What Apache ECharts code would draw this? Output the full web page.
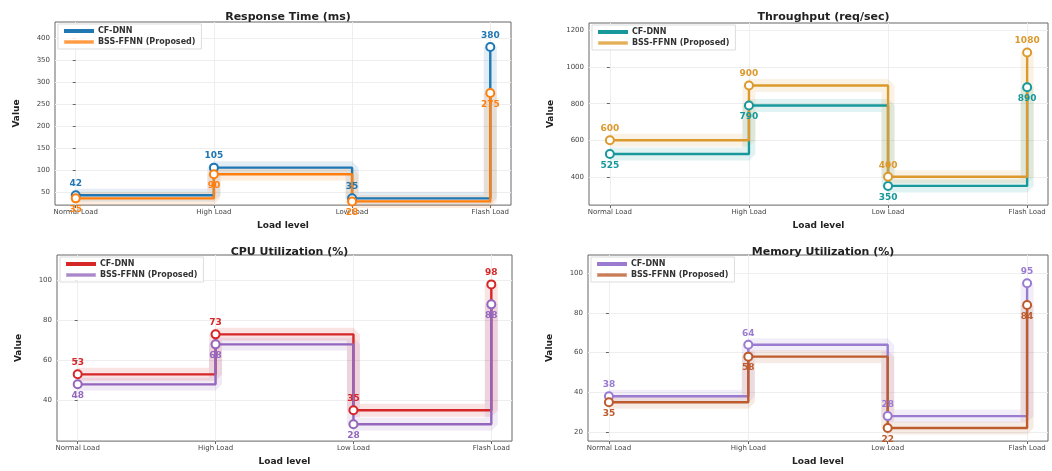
<!DOCTYPE html>
<html>
<head>
<meta charset="utf-8">
<script src="https://cdn.jsdelivr.net/npm/echarts@6/dist/echarts.min.js"></script>
<style>
  body { margin: 0; background: #fff; }
  #wrap { position: relative; width: 1052px; height: 471px; }
  .pane { position: absolute; }
</style>
</head>
<body>
<div id="wrap">
  <div class="pane" id="resp" style="left:0;top:0;width:526px;height:235px"></div>
  <div class="pane" id="thr" style="left:526px;top:0;width:526px;height:235px"></div>
  <div class="pane" id="cpu" style="left:0;top:235px;width:526px;height:236px"></div>
  <div class="pane" id="mem" style="left:526px;top:235px;width:526px;height:236px"></div>
</div>
<script>
const loadLevels = ['Normal Load', 'High Load', 'Low Load', 'Flash Load'];

// response time (ms)
const respCF = [42, 105, 35, 380];
const respBSS = [35, 90, 28, 275];
const respTicks = [50, 100, 150, 200, 250, 300, 350, 400];

// throughput (req/sec)
const thrCF = [525, 790, 350, 890];
const thrBSS = [600, 900, 400, 1080];
const thrTicks = [400, 600, 800, 1000, 1200];

// cpu utilization (%)
const cpuCF = [53, 73, 35, 98];
const cpuBSS = [48, 68, 28, 88];
const cpuTicks = [40, 60, 80, 100];

// memory utilization (%)
const memCF = [38, 64, 28, 95];
const memBSS = [35, 58, 22, 84];
const memTicks = [20, 40, 60, 80, 100];

const FONT = 'DejaVu Sans';

function pts(arr) {
    return arr.map((v, i) => [i, v]);
}

function makeChart(id, cfg) {
    const chart = echarts.init(document.getElementById(id), null, {renderer: 'canvas'});
    const g = cfg.grid;
    const all = cfg.cf.concat(cfg.bss);
    // same limits as the original plot: 0.7*min .. 1.15*max
    const ymin = Math.min.apply(null, all) * 0.7;
    const ymax = Math.max.apply(null, all) * 1.15;

    function lineSeries(name, data, color, labelPos) {
        return [{
            name: name + ' glow',
            type: 'line',
            step: 'end',
            data: pts(data),
            showSymbol: false,
            silent: true,
            lineStyle: {color: color, width: 13, opacity: 0.13},
            z: 1
        }, {
            name: name,
            type: 'line',
            step: 'end',
            data: pts(data),
            symbol: 'circle',
            symbolSize: 8,
            itemStyle: {color: '#fff', borderColor: color, borderWidth: 2},
            lineStyle: {color: color, width: 2.4},
            label: {
                show: true,
                position: labelPos,
                distance: 2,
                color: color,
                fontFamily: FONT,
                fontWeight: 'bold',
                fontSize: 9,
                formatter: p => p.value[1]
            },
            z: 3
        }];
    }

    chart.setOption({
        animation: false,
        textStyle: {fontFamily: FONT},
        title: {
            text: cfg.title,
            left: g.left + g.width / 2,
            top: 7,
            textAlign: 'center',
            textStyle: {fontFamily: FONT, fontWeight: 'bold', fontSize: 11, color: '#222'}
        },
        legend: {
            orient: 'vertical',
            left: g.left + 3,
            top: g.top + 2,
            itemWidth: 28,
            itemHeight: 2,
            itemGap: 3,
            icon: 'rect',
            padding: [3, 6],
            backgroundColor: 'rgba(255,255,255,0.85)',
            borderColor: '#ddd',
            borderWidth: 1,
            textStyle: {fontFamily: FONT, fontWeight: 'bold', fontSize: 8, color: '#333'},
            data: [
                {name: 'CF-DNN', itemStyle: {color: cfg.cfColor}},
                {name: 'BSS-FFNN (Proposed)', itemStyle: {color: cfg.bssColor, opacity: 0.55}}
            ]
        },
        grid: {
            left: g.left, top: g.top, width: g.width, height: g.height,
            show: true, borderColor: '#666', borderWidth: 1
        },
        xAxis: {
            type: 'value',
            min: -0.15,
            max: 3.15,
            name: 'Load level',
            nameLocation: 'middle',
            nameGap: 15,
            nameTextStyle: {fontFamily: FONT, fontWeight: 'bold', fontSize: 9, color: '#222'},
            axisLine: {show: false},
            axisTick: {show: true, customValues: [0, 1, 2, 3], length: 3, lineStyle: {color: '#666'}},
            axisLabel: {
                customValues: [0, 1, 2, 3],
                formatter: v => loadLevels[Math.round(v)],
                fontSize: 7, color: '#444', margin: 4
            },
            splitLine: {show: true, customValues: [0, 1, 2, 3], lineStyle: {color: '#eee'}}
        },
        yAxis: {
            type: 'value',
            min: ymin,
            max: ymax,
            name: 'Value',
            nameLocation: 'middle',
            nameGap: 34,
            nameRotate: 90,
            nameTextStyle: {fontFamily: FONT, fontWeight: 'bold', fontSize: 9, color: '#222'},
            axisLine: {show: false},
            axisTick: {show: true, customValues: cfg.ticks, length: 3, lineStyle: {color: '#666'}},
            axisLabel: {customValues: cfg.ticks, formatter: v => String(v), fontSize: 7, color: '#444', margin: 5},
            splitLine: {show: true, customValues: cfg.ticks, lineStyle: {color: '#eee'}}
        },
        series: lineSeries('CF-DNN', cfg.cf, cfg.cfColor, cfg.cfLabel)
            .concat(lineSeries('BSS-FFNN (Proposed)', cfg.bss, cfg.bssColor, cfg.bssLabel))
    });
}

makeChart('resp', {
    title: 'Response Time (ms)',
    grid: {left: 55, top: 22, width: 456, height: 195},
    cf: respCF, bss: respBSS, ticks: respTicks,
    cfColor: '#1f77b4', bssColor: '#ff7f0e',
    cfLabel: 'top', bssLabel: 'bottom'
});
makeChart('thr', {
    title: 'Throughput (req/sec)',
    grid: {left: 63, top: 23, width: 459, height: 194},
    cf: thrCF, bss: thrBSS, ticks: thrTicks,
    cfColor: '#17989b', bssColor: '#dc9a2e',
    cfLabel: 'bottom', bssLabel: 'top'
});
makeChart('cpu', {
    title: 'CPU Utilization (%)',
    grid: {left: 57, top: 20, width: 455, height: 195},
    cf: cpuCF, bss: cpuBSS, ticks: cpuTicks,
    cfColor: '#d62728', bssColor: '#9467bd',
    cfLabel: 'top', bssLabel: 'bottom'
});
makeChart('mem', {
    title: 'Memory Utilization (%)',
    grid: {left: 62, top: 20, width: 460, height: 195},
    cf: memCF, bss: memBSS, ticks: memTicks,
    cfColor: '#9a7bd0', bssColor: '#bd5b2c',
    cfLabel: 'top', bssLabel: 'bottom'
});
</script>
</body>
</html>
